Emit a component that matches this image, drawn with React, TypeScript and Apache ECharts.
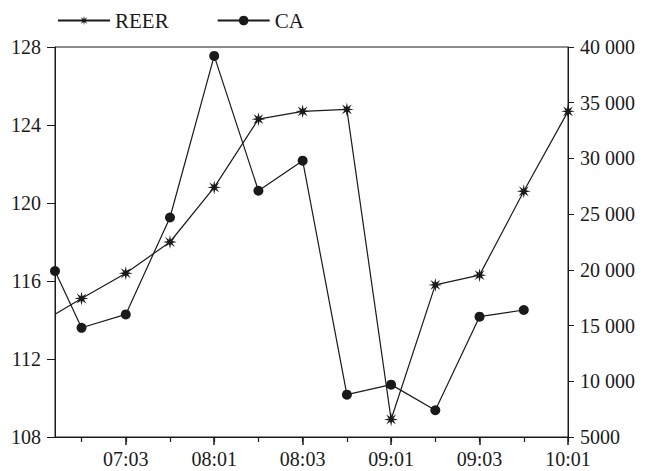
import React, { useEffect, useRef } from 'react';
import * as echarts from 'echarts';

// Quarterly categories (yy:qq); every second one is labelled
const categories = ['07:02', '07:03', '07:04', '08:01', '08:02', '08:03', '08:04', '09:01', '09:02', '09:03', '09:04', '10:01'];
const labelledCategories = ['07:03', '08:01', '08:03', '09:01', '09:03', '10:01'];

// Leading observation sits at the left edge of the axis (before 07:02)
const leadPosition = -0.6;
const reerLead = 114.3;
const caLead = 19900;

// REER (left axis)
const reer = [115.1, 116.4, 118.0, 120.8, 124.3, 124.7, 124.8, 108.9, 115.8, 116.3, 120.6, 124.7];
// CA (right axis)
const ca = [14800, 16000, 24700, 39200, 27100, 29800, 8800, 9700, 7400, 15800, 16400];

const leftTicks = [108, 112, 116, 120, 124, 128];
const rightTicks = [5000, 10000, 15000, 20000, 25000, 30000, 35000, 40000];

const FONT = '"Liberation Serif", "Times New Roman", serif';
const INK = '#1a1a1a';

function starPath(): string {
  const pts: string[] = [];
  for (let i = 0; i < 16; i++) {
    const a = (Math.PI * i) / 8;
    const r = i % 2 === 0 ? 10 : 3.6;
    pts.push(`${(10 + r * Math.sin(a)).toFixed(2)} ${(10 - r * Math.cos(a)).toFixed(2)}`);
  }
  return 'path://M' + pts.join(' L') + ' Z';
}

function fmtThousands(v: number): string {
  if (v < 10000) return String(v);
  return String(v).replace(/\B(?=(\d{3})+(?!\d))/g, ' ');
}

export default function App() {
  const ref = useRef<HTMLDivElement>(null);

  useEffect(() => {
    if (!ref.current) return;
    const chart = echarts.init(ref.current, null, { renderer: 'svg' });
    const idx = categories.map((_, i) => i);
    const labelIdx = labelledCategories.map((c) => categories.indexOf(c));
    const star = starPath();

    const reerData: any[] = [{ value: [leadPosition, reerLead], symbol: 'none' }].concat(
      reer.map((v, i) => ({ value: [i, v] })) as any
    );
    const caData: any[] = [[leadPosition, caLead]].concat(ca.map((v, i) => [i, v]) as any);

    chart.setOption({
      animation: false,
      backgroundColor: '#fff',
      textStyle: { fontFamily: FONT, color: INK },
      legend: {
        data: ['REER', 'CA'],
        left: 52,
        top: 5,
        itemWidth: 52,
        itemHeight: 12,
        itemGap: 48,
        textStyle: { fontFamily: FONT, fontSize: 21, color: INK },
      },
      grid: {
        left: 55,
        right: 77,
        top: 47,
        bottom: 34,
        show: true,
        borderColor: INK,
        borderWidth: 1,
        backgroundColor: 'transparent',
      },
      xAxis: [
        {
          type: 'value',
          min: leadPosition,
          max: categories.length - 1,
          position: 'bottom',
          axisLine: { show: true, onZero: false, lineStyle: { color: INK, width: 1 } },
          axisTick: { show: true, length: 5, customValues: idx, lineStyle: { color: INK, width: 1.2 } },
          axisLabel: {
            show: true,
            customValues: labelIdx,
            margin: 12,
            fontFamily: FONT,
            fontSize: 20,
            color: INK,
            formatter: (v: number) => categories[Math.round(v)] ?? '',
          },
          splitLine: { show: false },
        },
        {
          type: 'value',
          min: leadPosition,
          max: categories.length - 1,
          position: 'bottom',
          axisLine: { show: false, onZero: false },
          axisTick: { show: true, length: 8, customValues: labelIdx, lineStyle: { color: INK, width: 1.5 } },
          axisLabel: { show: false, customValues: labelIdx },
          splitLine: { show: false },
        },
      ],
      yAxis: [
        {
          type: 'value',
          min: leftTicks[0],
          max: leftTicks[leftTicks.length - 1],
          interval: leftTicks[1] - leftTicks[0],
          position: 'left',
          axisLine: { show: true, onZero: false, lineStyle: { color: INK, width: 1 } },
          axisTick: { show: true, length: 8, lineStyle: { color: INK, width: 1 } },
          axisLabel: { margin: 14, fontFamily: FONT, fontSize: 20, color: INK },
          splitLine: { show: false },
        },
        {
          type: 'value',
          min: rightTicks[0],
          max: rightTicks[rightTicks.length - 1],
          interval: rightTicks[1] - rightTicks[0],
          position: 'right',
          axisLine: { show: true, onZero: false, lineStyle: { color: INK, width: 1 } },
          axisTick: { show: true, length: 6, lineStyle: { color: INK, width: 1 } },
          axisLabel: { margin: 12, fontFamily: FONT, fontSize: 20, color: INK, formatter: fmtThousands },
          splitLine: { show: false },
        },
      ],
      series: [
        {
          name: 'REER',
          type: 'line',
          xAxisIndex: 0,
          yAxisIndex: 0,
          data: reerData,
          symbol: star,
          symbolSize: 14,
          showAllSymbol: true,
          clip: false,
          lineStyle: { color: INK, width: 1.2 },
          itemStyle: { color: INK },
          z: 3,
        },
        {
          name: 'CA',
          type: 'line',
          xAxisIndex: 0,
          yAxisIndex: 1,
          data: caData,
          symbol: 'circle',
          symbolSize: 10,
          showAllSymbol: true,
          clip: false,
          lineStyle: { color: INK, width: 1.2 },
          itemStyle: { color: INK },
          z: 2,
        },
      ],
    });

    return () => chart.dispose();
  }, []);

  return <div ref={ref} style={{ position: 'fixed', left: 0, top: 0, width: 645, height: 471 }} />;
}
